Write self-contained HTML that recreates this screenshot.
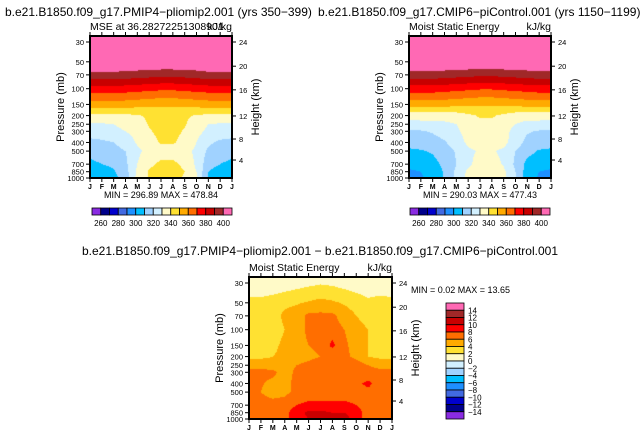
<!DOCTYPE html>
<html><head><meta charset="utf-8">
<style>
body{margin:0;background:#fff;width:643px;height:438px;overflow:hidden;position:relative;font-family:"Liberation Sans",sans-serif}
canvas{position:absolute}
svg{position:absolute;left:0;top:0}
text{font-family:"Liberation Sans",sans-serif;fill:#000}
</style></head>
<body>
<canvas id="c1" style="left:90px;top:36px" width="142" height="142"></canvas>
<canvas id="c2" style="left:409px;top:36px" width="142" height="142"></canvas>
<canvas id="c3" style="left:249px;top:277px" width="143" height="142"></canvas>
<svg id="s" width="643" height="438"></svg>
<script>
const months=["J","F","M","A","M","J","J","A","S","O","N","D","J"];
const levels=[30,50,70,100,150,200,250,300,400,500,700,850,1000];
const pTicks=["30","50","70","100","150","200","250","300","400","500","700","850","1000"];
const hTicks=[["24",30],["20",56],["16",103],["12",202],["8",366],["4",629]];
const colors=["#8a2be2","#00008b","#0000cd","#4169e1","#1e90ff","#00bfff","#a0d2ff","#d2f0ff","#fffac8","#ffe132","#ffaa00","#ff6e00","#ff0000","#c80000","#a02828","#ff69b4"];
const levA=[260,270,280,290,300,310,320,330,340,350,360,370,380,390,400];
const levLabA=["260","280","300","320","340","360","380","400"];
const levD=[-14,-12,-10,-8,-6,-4,-2,0,2,4,6,8,10,12,14];
const levLabD=["14","12","10","8","6","4","2","0","\u22122","\u22124","\u22126","\u22128","\u221210","\u221212","\u221214"];
const mseA=[
[430,430,430,430,430,430,430,430,430,430,430,430,430],
[410,410,410,410,410,410,410,410,410,410,410,410,410],
[397,397,397,396,395,394,393,393,394,395,397,397,397],
[376,376,376,375,374,373,372,372,373,374,375,376,376],
[356,356,356,355,354,353,352,352,353,354,355,356,356],
[338,338,338,338,339,342,344,344,342,339,338,338,338],
[328,329,330,332,334,341,343,343,341,334,330,329,328],
[325,326,328,330,333,339,343,343,339,333,328,326,325],
[317,318,320,325,331,336,341,341,337,330,322,318,317],
[313,314,316,320,328,333,336,336,333,328,318,314,313],
[308,310,312,318,330,338,342,342,338,328,314,310,308],
[303,305,309,316,332,341,344,344,340,330,310,305,303],
[301,303,307,315,333,341,344,343,339,331,309,304,301]];
const mseB=[
[430,430,430,430,430,430,430,430,430,430,430,430,430],
[410,410,410,410,410,410,410,410,410,410,410,410,410],
[396,396,396,395,394,393,392,392,393,394,395,396,396],
[375,375,375,374,373,372,371,371,372,373,374,375,375],
[355,355,355,354,353,352,351,351,352,353,354,355,355],
[334,334,334,334,335,338,341,341,338,335,334,334,334],
[326,327,327,328,330,335,338,338,335,330,327,327,326],
[318,319,321,324,328,334,337,337,334,326,321,319,318],
[314,315,316,319,325,332,336,336,333,325,317,315,314],
[308,309,311,315,321,328,331,331,328,320,313,309,308],
[304,305,307,312,320,328,334,334,329,318,307,305,304],
[298,300,304,311,322,332,337,337,332,320,305,300,298],
[296,299,303,311,323,333,336,336,333,321,304,299,296]];
const mseD=[
[0.5,0.5,0.5,0.8,1.2,1.5,1.8,1.6,1.2,0.8,0.5,0.6,0.5],
[2.6,2.6,3,3.5,3.8,4.2,4.6,4.3,3.8,3.2,2.5,2.8,2.6],
[3.5,3.5,3,4.5,5,6.5,6.5,6.5,5,4,3.5,3.5,3.5],
[3.5,3.5,3,4,5,6.5,7,7,6,4.5,4,3.5,3.5],
[3,3,3.5,4.5,5,6,6.5,8.5,6.5,5,4,3,3],
[3.5,3.5,4,4.5,5,5.5,6,6.5,6.5,5.5,4,3.5,3.5],
[5.5,5.5,5,5,6,6.5,7,7,8,7,6,5.5,5.5],
[6.5,6.5,6.5,5,6.5,7,7,7,7.5,7,6.5,6.5,6.5],
[6.2,6.2,5.5,5.5,6.5,7,7,7,7,7.5,8.5,7,6.2],
[6.5,6,5,5.5,6.5,7,7,7,7,7,7.5,6.5,6.5],
[7,7,7,7,8,8.5,8.5,8.5,8.5,8,7,7,7],
[7,7,7,7.5,9,10.5,10.5,10,10,9,7,7,7],
[7,7,7,7.5,9,10,10,10,11,9,7,7,7]];

const LT=Math.log10(25.7);
function yS(p,top,h){return top+(Math.log10(p)-LT)/(3-LT)*h;}
function xS(m,left,w){return left+m/12*w;}
function binColor(v,lev){let i=0;while(i<lev.length&&v>=lev[i])i++;return colors[i];}
function fieldAt(data,mf,p){
  const lp=Math.log10(Math.max(p,30));
  let k=0;while(k<levels.length-2&&Math.log10(levels[k+1])<lp)k++;
  const a=Math.log10(levels[k]),b=Math.log10(levels[k+1]);
  let t=(lp-a)/(b-a);t=Math.max(0,Math.min(1,t));
  const m0=Math.min(11,Math.floor(mf)),u=mf-m0;
  const r0=data[k][m0]*(1-u)+data[k][m0+1]*u;
  const r1=data[k+1][m0]*(1-u)+data[k+1][m0+1]*u;
  return r0*(1-t)+r1*t;
}
function drawField(id,data,lev){
  const c=document.getElementById(id),ctx=c.getContext('2d');
  const w=c.width,h=c.height;
  for(let y=0;y<h;y++){
    const lp=LT+(y+0.5)/h*(3-LT),p=Math.pow(10,lp);
    for(let x=0;x<w;x++){
      const mf=(x+0.5)/w*12;
      ctx.fillStyle=binColor(fieldAt(data,mf,p),lev);
      ctx.fillRect(x,y,1,1);
    }
  }
}
drawField('c1',mseA,levA);
drawField('c2',mseB,levA);
drawField('c3',mseD,levD);

const S=document.getElementById('s');const NS="http://www.w3.org/2000/svg";
function el(tag,attrs,txt,name){const e=document.createElementNS(NS,tag);for(const k in attrs)e.setAttribute(k,attrs[k]);if(txt!==undefined)e.textContent=txt;


S.appendChild(e);return e;}

function axes(L,T,W,H,sub1,sub2,pre){
  el('rect',{x:L,y:T,width:W,height:H,fill:'none',stroke:'#000','stroke-width':2},undefined,pre+'-frame');
  levels.forEach((p,i)=>{const y=yS(p,T,H);
    el('line',{x1:L-4,x2:L,y1:y,y2:y,stroke:'#000','stroke-width':1},undefined,pre+'-pressure-tick');
    el('text',{x:L-6,y:y+3,'font-size':7.5,'text-anchor':'end'},pTicks[i],pre+'-pressure-label');});
  hTicks.forEach(h=>{const y=yS(h[1],T,H);
    el('line',{x1:L+W,x2:L+W+4,y1:y,y2:y,stroke:'#000','stroke-width':1},undefined,pre+'-height-tick');
    el('text',{x:L+W+7,y:y+3,'font-size':7.5},h[0],pre+'-height-label');});
  months.forEach((m,i)=>{const x=xS(i,L,W);
    el('line',{x1:x,x2:x,y1:T+H,y2:T+H+4,stroke:'#000','stroke-width':1},undefined,pre+'-month-tick');
    el('line',{x1:x,x2:x,y1:T,y2:T-4,stroke:'#000','stroke-width':1},undefined,pre+'-top-tick');
    el('text',{x:x,y:T+H+11,'font-size':7,'text-anchor':'middle','font-weight':'bold'},m,pre+'-month-label');});
  el('text',{x:0,y:0,'font-size':11,'text-anchor':'middle',transform:`translate(${L-26},${T+H/2}) rotate(-90)`},'Pressure (mb)',pre+'-y-axis-title');
  el('text',{x:0,y:0,'font-size':11,'text-anchor':'middle',transform:`translate(${L+W+27},${T+H/2}) rotate(-90)`},'Height (km)',pre+'-right-axis-title');
  el('text',{x:L,y:T-6,'font-size':10.5},sub1,pre+'-subtitle');
  el('text',{x:L+W,y:T-6,'font-size':10.5,'text-anchor':'end'},sub2,pre+'-units');
}
function hbar(L,T,W,H,lev,labs){
  const bw=W/colors.length;
  colors.forEach((c,i)=>el('rect',{x:L+i*bw,y:T,width:bw,height:H,fill:c,stroke:'#000','stroke-width':0.8},undefined,'colorbar-box'));
  labs.forEach((s,j)=>el('text',{x:L+(2*j+1)*bw,y:T+H+11,'font-size':8,'text-anchor':'middle'},s,'colorbar-label'));
}
axes(90,36,142,142,'MSE at 36.28272251308901','kJ/kg','left');
axes(409,36,142,142,'Moist Static Energy','kJ/kg','right');
axes(249,277,143,142,'Moist Static Energy','kJ/kg','diff');
el('text',{x:5,y:16,'font-size':12},'b.e21.B1850.f09_g17.PMIP4\u2212pliomip2.001 (yrs 350\u2212399)','left-title');
el('text',{x:318,y:16,'font-size':12},'b.e21.B1850.f09_g17.CMIP6\u2212piControl.001 (yrs 1150\u22121199)','right-title');
el('text',{x:320,y:255,'font-size':12,'text-anchor':'middle'},'b.e21.B1850.f09_g17.PMIP4\u2212pliomip2.001 \u2212 b.e21.B1850.f09_g17.CMIP6\u2212piControl.001','diff-title');
el('text',{x:161,y:198,'font-size':9,'text-anchor':'middle'},'MIN = 296.89  MAX = 478.84','left-minmax');
el('text',{x:480,y:198,'font-size':9,'text-anchor':'middle'},'MIN = 290.03  MAX = 477.43','right-minmax');
el('text',{x:411,y:293,'font-size':9,'xml:space':'preserve'},'MIN =    0.02 MAX =   13.65','diff-minmax');
hbar(92,208,140,7,levA,levLabA);
hbar(410,208,140,7,levA,levLabA);
(function(){const L=446,T=303,W=18,H=116,bh=H/colors.length;
  colors.slice().reverse().forEach((c,i)=>el('rect',{x:L,y:T+i*bh,width:W,height:bh,fill:c,stroke:'#000','stroke-width':0.8},undefined,'diff-colorbar-box'));
  levLabD.forEach((s,j)=>el('text',{x:L+W+4,y:T+(j+1)*bh+3,'font-size':8},s,'diff-colorbar-label'));
})();
</script>
</body></html>
